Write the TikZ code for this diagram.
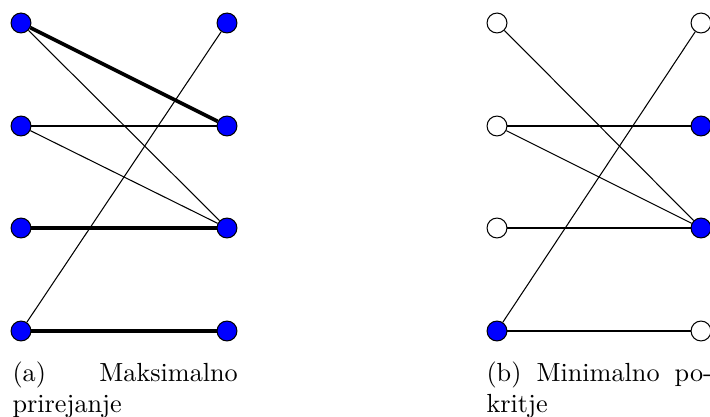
\documentclass[tikz,border=0pt]{standalone}
\begin{document}
\begin{tikzpicture}[x=0.3817pt, y=-0.3817pt,
  vtx/.style={circle, draw=black, line width=0.4pt, minimum size=7.6pt, inner sep=0pt},
  full/.style={vtx, fill=blue},
  empty/.style={vtx, fill=white},
  edge/.style={line width=0.4pt},
  matched/.style={line width=1.4pt},
  captext/.style={anchor=north west, inner sep=0pt, align=left, font=\fontsize{10}{12}\selectfont}]
\useasboundingbox (0,0) rectangle (710,417);

% (a) maximum matching
\foreach \i/\y in {1/23,2/126,3/228,4/331}{
  \node[full] (aL\i) at (21,\y) {};
  \node[full] (aR\i) at (227,\y) {};
}
\draw[matched] (aL1) -- (aR2);
\draw[edge] (aL1) -- (aR3);
\draw[edge] (aL2) -- (aR2);
\draw[edge] (aL2) -- (aR3);
\draw[matched] (aL3) -- (aR3);
\draw[edge] (aL4) -- (aR1);
\draw[matched] (aL4) -- (aR4);

% (b) minimum vertex cover
\node[empty] (bL1) at (497,23) {};
\node[empty] (bL2) at (497,126) {};
\node[empty] (bL3) at (497,228) {};
\node[full]  (bL4) at (497,331) {};
\node[empty] (bR1) at (701,23) {};
\node[full]  (bR2) at (701,126) {};
\node[full]  (bR3) at (701,228) {};
\node[empty] (bR4) at (701,331) {};
\draw[edge] (bL1) -- (bR3);
\draw[edge] (bL2) -- (bR2);
\draw[edge] (bL2) -- (bR3);
\draw[edge] (bL3) -- (bR3);
\draw[edge] (bL4) -- (bR1);
\draw[edge] (bL4) -- (bR4);

% captions
\node[captext] (capa) at (12,361) {\makebox[86pt][s]{(a) Maksimalno}\\prirejanje};
\node[captext] (capb) at (486,361) {\makebox[86pt][s]{(b) Minimalno po-}\\kritje};
\end{tikzpicture}
\end{document}
